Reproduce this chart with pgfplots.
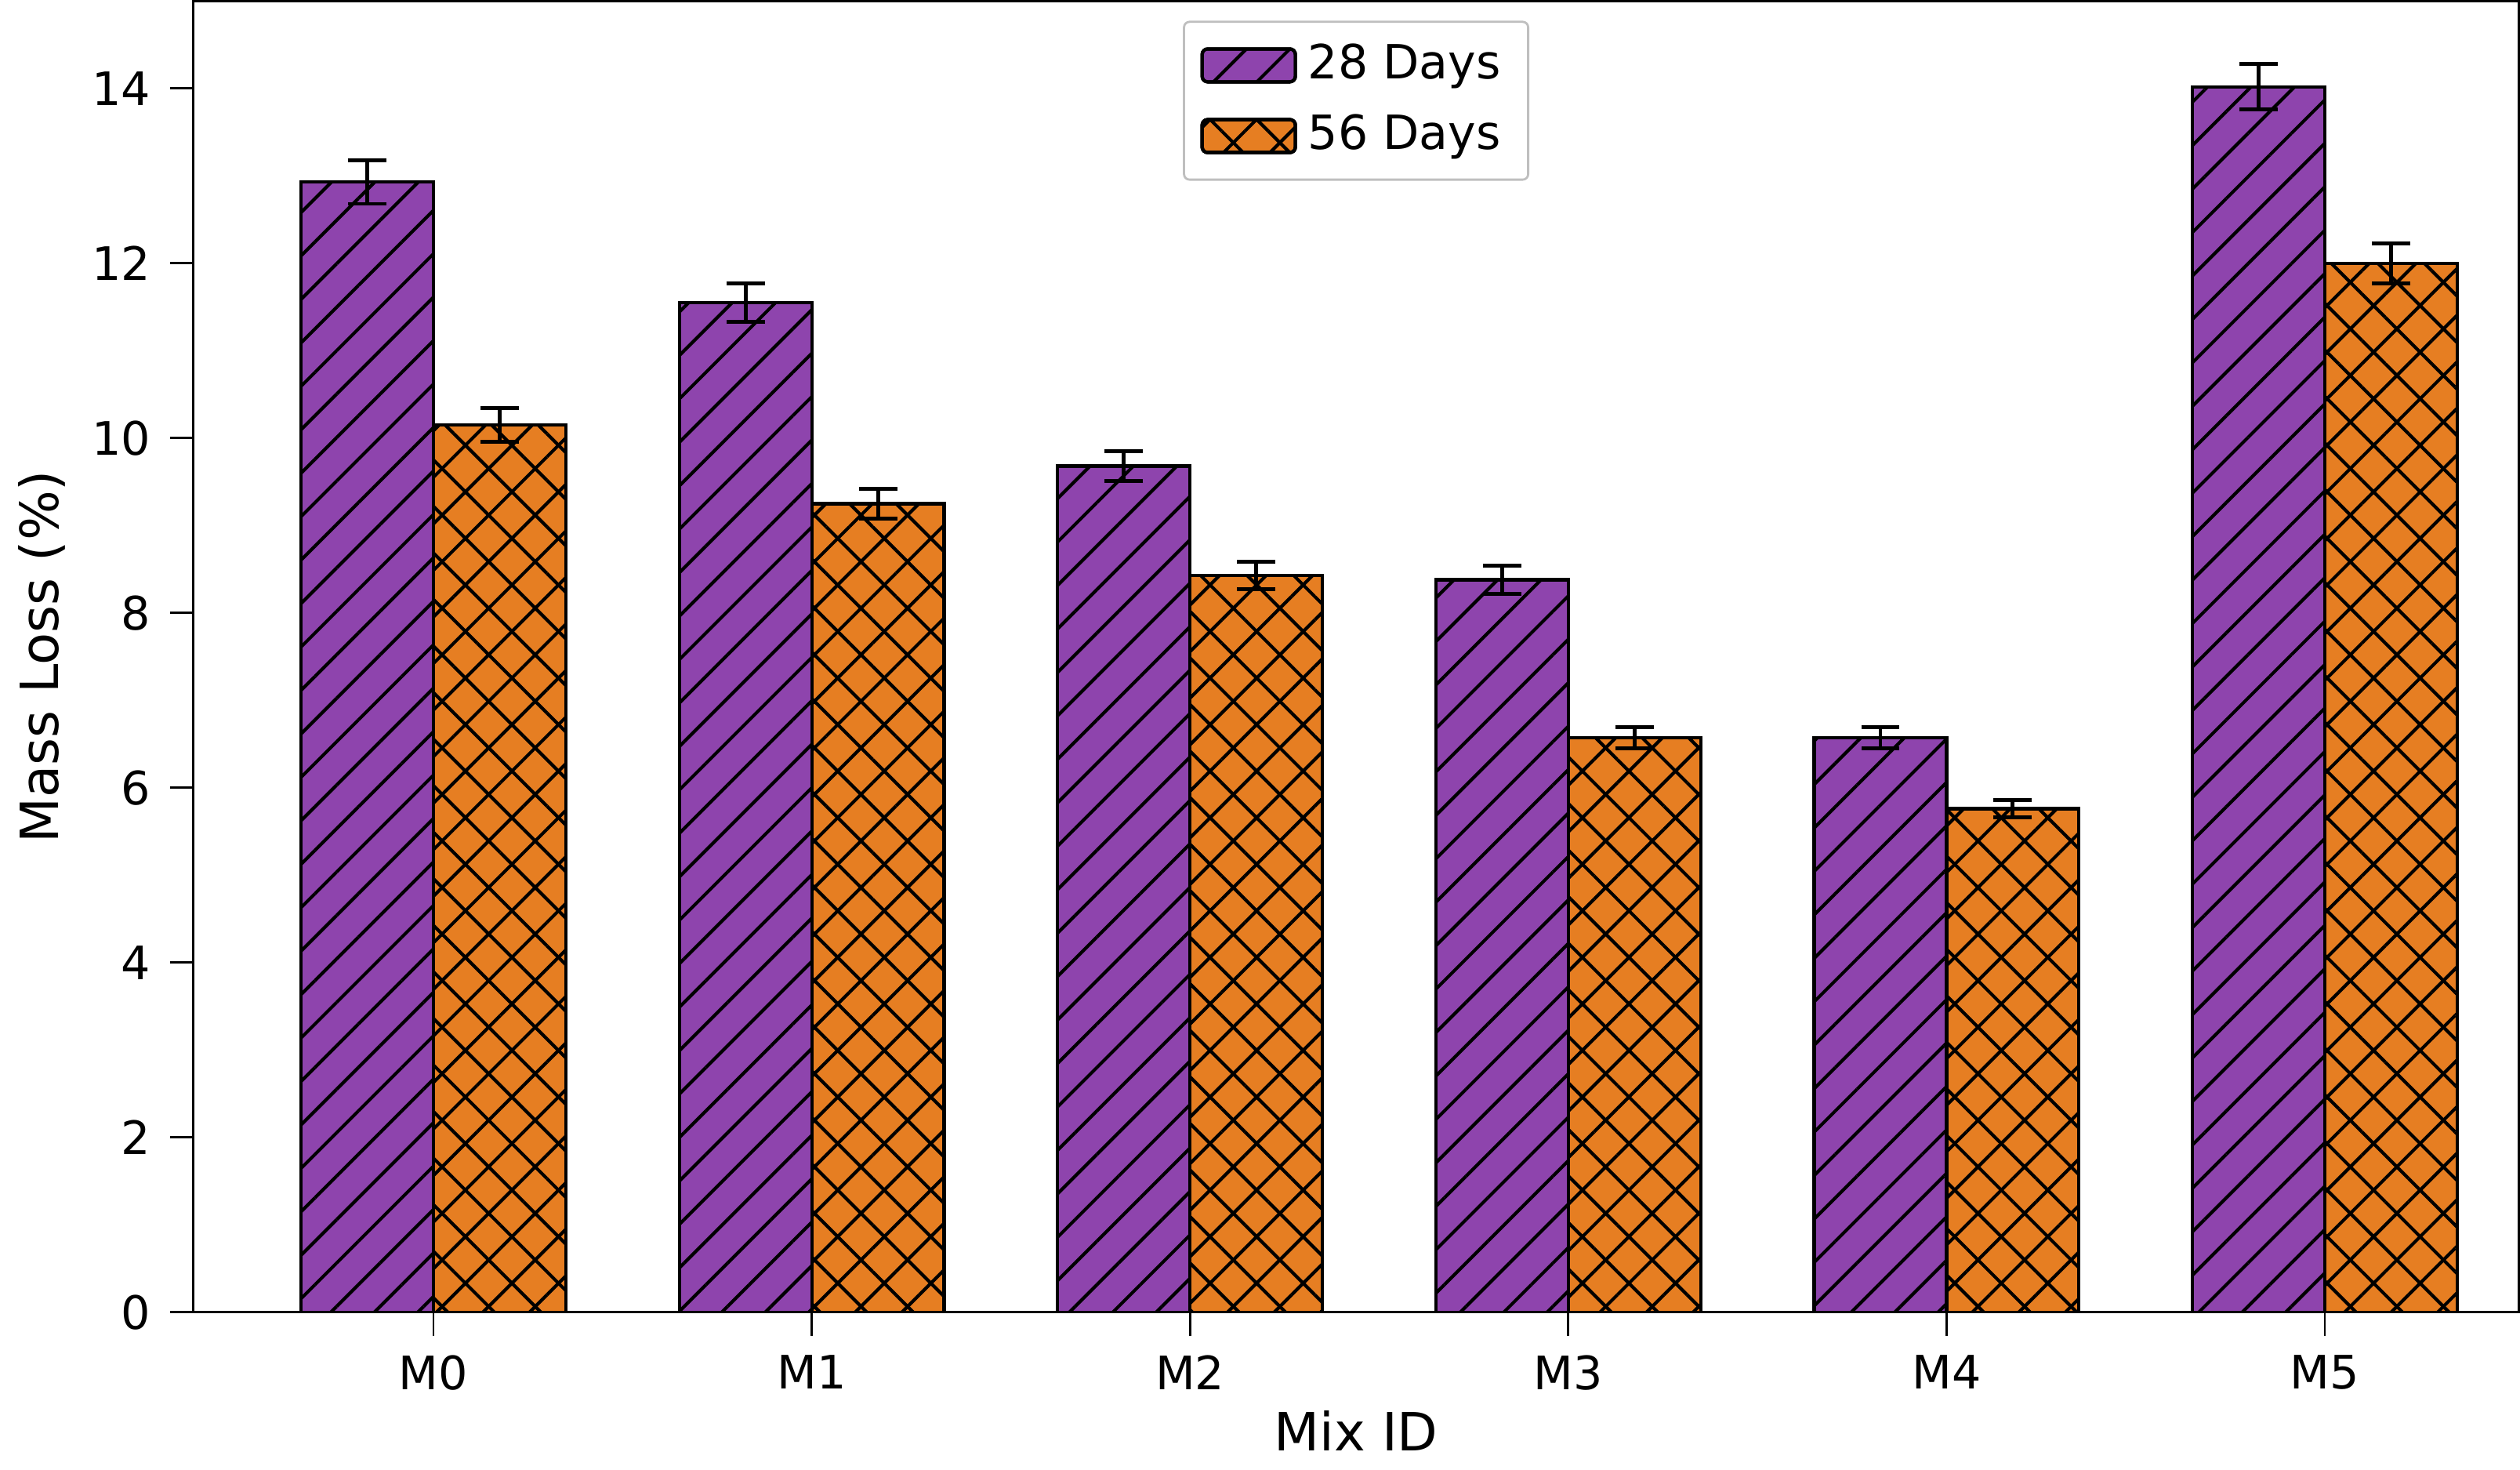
\documentclass[border=0pt]{standalone}
\usepackage{pgfplots}
\pgfplotsset{compat=1.18}
\usepackage{fontspec}
\setmainfont{DejaVu Sans}
\usetikzlibrary{patterns.meta}
\definecolor{cpur}{HTML}{8E44AD}
\definecolor{corg}{HTML}{E67E22}
\tikzset{
 hA/.style={postaction={pattern={Lines[angle=45,distance=5.6pt,line width=0.6pt]}}},
 hB/.style={postaction={pattern={Lines[angle=45,distance=6pt,line width=0.6pt]}},
            postaction={pattern={Lines[angle=-45,distance=6pt,line width=0.6pt]}}}
}
\begin{document}
\begin{tikzpicture}
\begin{axis}[
 width=424pt, height=239pt, scale only axis,
 font=\fontsize{8.4}{10}\selectfont,
 /pgf/number format/assume math mode=true,
 ybar, bar width=0.35, bar shift auto,
 xmin=-0.635, xmax=5.513, ymin=0, ymax=15,
 xtick={0,1,2,3,4,5}, xticklabels={M0,M1,M2,M3,M4,M5},
 ytick={0,2,4,6,8,10,12,14},
 tick align=outside, tick style={black,thin},
 xtick pos=bottom, ytick pos=left,
 xlabel={Mix ID}, ylabel={Mass Loss (\%)},
 label style={font=\fontsize{9.6}{11}\selectfont},
 xlabel style={yshift=3pt}, ylabel style={yshift=-2pt},
 legend style={at={(0.5,0.985)},anchor=north,draw=black!25,rounded corners=1pt,
   font=\fontsize{8.6}{10}\selectfont, row sep=1pt},
 legend cell align=left,
 legend image code/.code={\draw[#1] (0pt,-3pt) rectangle (17pt,3pt);},
 error bars/error bar style={black, line width=0.7pt},
 error bars/error mark options={rotate=90, mark size=3.5pt, line width=0.7pt},
]
\addplot[fill=cpur, draw=black, line width=0.6pt, hA, bar shift=-0.175,
 error bars/.cd, y dir=both, y explicit] coordinates {
 (0,12.93) +- (0,0.25) (1,11.55) +- (0,0.22) (2,9.68) +- (0,0.17)
 (3,8.38) +- (0,0.16) (4,6.57) +- (0,0.12) (5,14.02) +- (0,0.26)};
\addplot[fill=corg, draw=black, line width=0.6pt, hB, bar shift=0.175,
 error bars/.cd, y dir=both, y explicit] coordinates {
 (0,10.15) +- (0,0.19) (1,9.25) +- (0,0.17) (2,8.43) +- (0,0.16)
 (3,6.57) +- (0,0.12) (4,5.76) +- (0,0.10) (5,12.0) +- (0,0.23)};
\legend{28 Days, 56 Days}
\end{axis}
\end{tikzpicture}
\end{document}
